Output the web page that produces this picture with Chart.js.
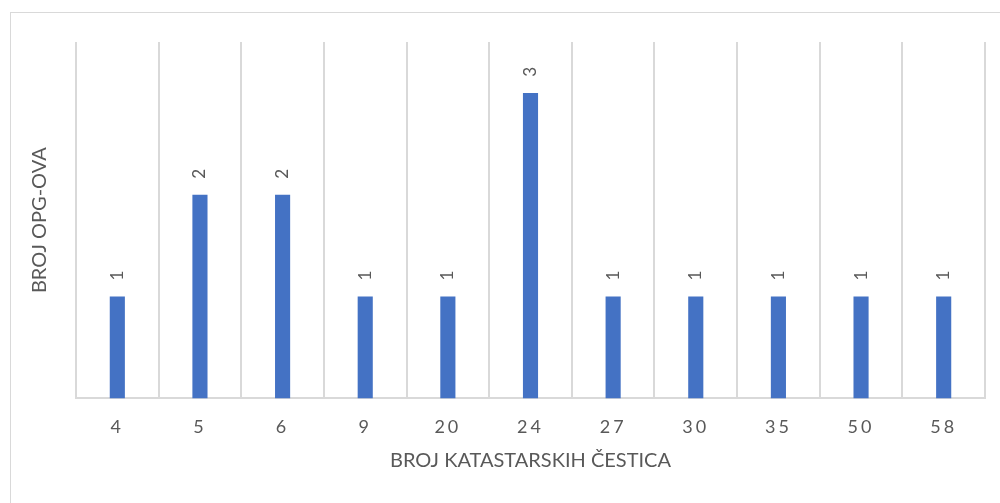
<!DOCTYPE html>
<html>
<head>
<meta charset="utf-8">
<script src="https://cdn.jsdelivr.net/npm/chart.js@4"></script>
<style>
html,body{margin:0;padding:0;background:#fff;}
#wrap{width:1000px;height:503px;position:relative;}
</style>
</head>
<body>
<div id="wrap"><canvas id="c" width="1000" height="503"></canvas></div>
<script>
const categories = ['4', '5', '6', '9', '20', '24', '27', '30', '35', '50', '58'];
const values = [1, 2, 2, 1, 1, 3, 1, 1, 1, 1, 1];
const xTitle = 'BROJ KATASTARSKIH ČESTICA';
const yTitle = 'BROJ OPG-OVA';

const FONT = 'Lato, "Open Sans", sans-serif';
const TEXT = '#595959';
const GRID = '#d9d9d9';

const framePlugin = {
  id: 'frame',
  beforeDraw(chart) {
    const ctx = chart.ctx;
    ctx.save();
    ctx.strokeStyle = GRID;
    ctx.lineWidth = 1;
    ctx.strokeRect(10.5, 12.5, 1200, 800);
    ctx.restore();
    const sx = chart.scales.x;
    if (sx && !sx._spaced) {
      const orig = sx.drawLabels;
      sx.drawLabels = function (a) {
        const c = this.ctx;
        c.save();
        c.letterSpacing = '3px';
        orig.call(this, a);
        c.restore();
      };
      sx._spaced = true;
    }
  },
  afterDatasetsDraw(chart) {
    const ctx = chart.ctx;
    const meta = chart.getDatasetMeta(0);
    ctx.save();
    ctx.fillStyle = TEXT;
    ctx.font = '17px ' + FONT;
    ctx.textAlign = 'center';
    ctx.textBaseline = 'middle';
    meta.data.forEach((bar, i) => {
      const v = chart.data.datasets[0].data[i];
      ctx.save();
      ctx.translate(bar.x, bar.y - 21);
      ctx.rotate(-Math.PI / 2);
      ctx.fillText(String(v), 0, 0);
      ctx.restore();
    });
    ctx.restore();
  }
};

new Chart(document.getElementById('c'), {
  type: 'bar',
  data: {
    labels: categories,
    datasets: [{
      data: values,
      backgroundColor: '#4472C4',
      borderWidth: 0,
      barPercentage: 0.5,
      categoryPercentage: 0.366
    }]
  },
  options: {
    responsive: false,
    animation: false,
    events: [],
    layout: { padding: { left: 20, right: 15, top: 42, bottom: 10 } },
    plugins: { legend: { display: false }, tooltip: { enabled: false } },
    scales: {
      x: {
        offset: true,
        grid: { display: true, offset: true, color: GRID, lineWidth: 2, drawTicks: false },
        border: { display: true, color: GRID, width: 2 },
        ticks: { color: TEXT, font: { family: FONT, size: 18 }, padding: 18 },
        title: { display: true, text: xTitle, color: TEXT, font: { family: FONT, size: 20 }, padding: { top: -7, bottom: 20 } }
      },
      y: {
        min: 0,
        max: 3.5,
        grid: { display: false, drawTicks: false },
        border: { display: false },
        ticks: { display: false },
        title: { display: true, text: yTitle, color: TEXT, font: { family: FONT, size: 20 }, padding: { top: 8, bottom: 24 } }
      }
    }
  },
  plugins: [framePlugin]
});
</script>
</body>
</html>
